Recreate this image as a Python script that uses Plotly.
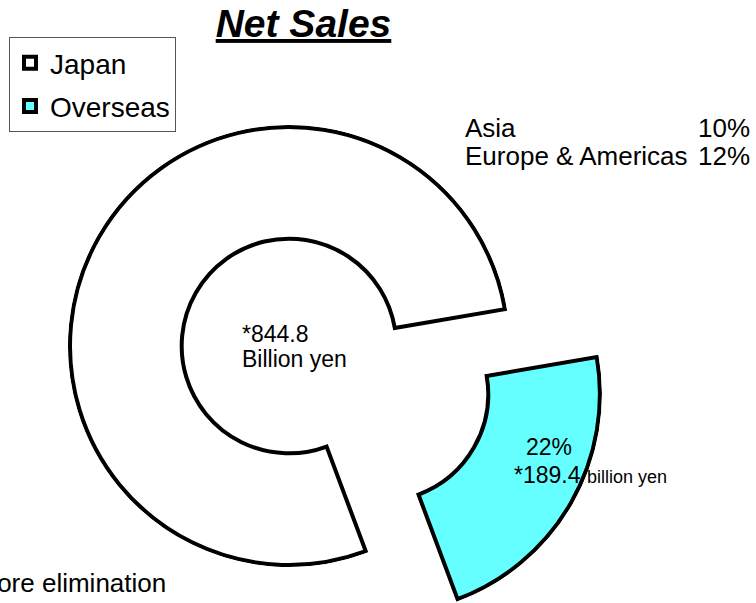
import numpy as np
import plotly.graph_objects as go

# ---- data -------------------------------------------------------------
segments = ["Japan", "Overseas"]
shares = [78, 22]                      # % of net sales
amounts = [844.8, 189.4]               # billion yen, before elimination
regions = ["Asia", "Europe & Americas"]
region_shares = [10, 12]               # % of net sales (overseas breakdown)

# ---- styling / layout constants ----------------------------------------
W, H = 756, 603
FONT = "Liberation Sans, Arial, sans-serif"
COLORS = ["#FFFFFF", "#66FFFF"]
START = 159.5          # clockwise angle from 12 o'clock where Japan begins
CX, CY = 289, 346      # ring centre (px)
R = 219                # outer radius of the ring (px)
HOLE = 0.49            # inner radius as a fraction of R
PULL = 106             # how far the Overseas slice is pulled out (px)
LINE_W = 4
PAD_R = 0.01           # radial head-room so the outline is not clipped
PAD_A = 1.2            # angular head-room (deg) for the pulled slice


def fx(x):
    return x / W


def fy(y):
    return 1 - y / H


def clamp(v):
    return min(1.0, max(0.0, v))


total = sum(shares)
spans = [s / total * 360 for s in shares]
starts = [START, START + spans[0]]
mids = [a + s / 2 for a, s in zip(starts, spans)]
RP = R * (1 + PAD_R)   # radius of each polar subplot in px

# Overseas slice: sector in screen angles (counter-clockwise from 3 o'clock)
a_hi = ((90 - starts[1]) + 180) % 360 - 180
a_lo = a_hi - spans[1]
sector = [a_lo - PAD_A, a_hi + PAD_A]
mid_rad = np.deg2rad(90 - mids[1])
ox = CX + PULL * np.cos(mid_rad)
oy = CY - PULL * np.sin(mid_rad)

angs = np.deg2rad(np.linspace(sector[0], sector[1], 721))
bx = np.concatenate([[0.0], np.cos(angs)])
by = np.concatenate([[0.0], np.sin(angs)])
x0, x1, y0, y1 = bx.min(), bx.max(), by.min(), by.max()
oy = min(oy, H - RP * (-y0) - 0.2)   # keep the sector box on the page

fig = go.Figure()

subplots = ["polar", "polar2"]
for i, name in enumerate(segments):
    fig.add_trace(go.Barpolar(
        r=[1 - HOLE], theta=[mids[i]], width=[spans[i]], base=HOLE,
        name=name, legendgroup=name, subplot=subplots[i],
        marker=dict(color=COLORS[i], line=dict(color="black", width=LINE_W)),
        hovertemplate=f"{name}: {shares[i]}%<extra></extra>",
    ))

hidden_axes = dict(
    bgcolor="rgba(0,0,0,0)",
    angularaxis=dict(rotation=90, direction="clockwise", visible=False),
    radialaxis=dict(range=[0, 1 + PAD_R], visible=False),
)

fig.update_layout(
    width=W, height=H, autosize=False,
    margin=dict(l=0, r=0, t=0, b=0),
    paper_bgcolor="white", plot_bgcolor="white",
    font=dict(family=FONT, color="black"),
    polar=dict(
        domain=dict(x=[fx(CX - RP), fx(CX + RP)], y=[fy(CY + RP), fy(CY - RP)]),
        **hidden_axes,
    ),
    polar2=dict(
        domain=dict(x=[clamp(fx(ox + RP * x0)), clamp(fx(ox + RP * x1))],
                    y=[clamp(fy(oy - RP * y0)), clamp(fy(oy - RP * y1))]),
        sector=sector,
        **hidden_axes,
    ),
    title=dict(
        text="<b><i><u>Net Sales</u></i></b>",
        font=dict(family=FONT, size=39, color="black"),
        x=fx(303.5), xanchor="center", xref="paper",
        y=fy(37 - 0.35 * 39), yanchor="middle", yref="paper",
    ),
    legend=dict(
        x=fx(9), y=fy(37), xanchor="left", yanchor="top",
        bgcolor="white", bordercolor="#555555", borderwidth=1,
        font=dict(family=FONT, size=28, color="black"),
        traceorder="grouped", tracegroupgap=4,
    ),
    showlegend=True,
)


def label(text, x, baseline, size, anchor="left"):
    fig.add_annotation(
        text=text, x=fx(x), y=fy(baseline - 0.3465 * size),
        xref="paper", yref="paper", xanchor=anchor, yanchor="middle",
        showarrow=False, align=anchor,
        font=dict(family=FONT, size=size, color="black"),
    )


# overseas breakdown (top right)
for name, val, base in zip(regions, region_shares, [137, 165]):
    label(name, 463, base, 26, "left")
    label(f"{val}%", 752, base, 26, "right")

# Japan amount inside the ring
label(f"*{amounts[0]:.1f}", 240, 342, 23, "left")
label("Billion yen", 240, 367, 23, "left")

# Overseas share and amount on the pulled slice
label(f"{shares[1]}%", 549, 455, 23, "center")
label(f"*{amounts[1]:.1f} <span style='font-size:18px'>billion yen</span>",
      512, 483, 23, "left")

# footnote
label("*Before elimination", 168, 592, 26, "right")

fig.write_html("out.html")
